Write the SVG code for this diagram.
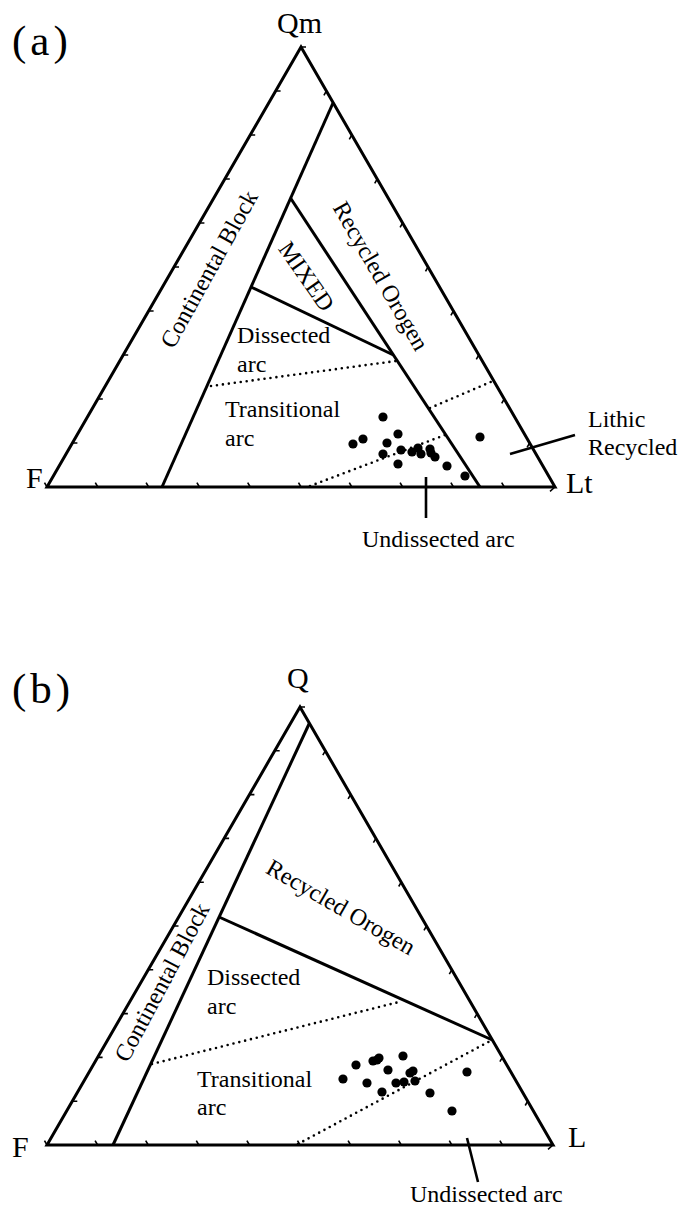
<svg xmlns="http://www.w3.org/2000/svg" width="695" height="1206" viewBox="0 0 695 1206">
<style>
text{font-family:"Liberation Serif","Times New Roman",serif;fill:#000}
.lab{font-size:24px}
.ax{font-size:30px}
.pan{font-size:43px;letter-spacing:4px}
.side{fill:none;stroke:#000;stroke-width:3;stroke-linejoin:miter}
.ln{fill:none;stroke:#000;stroke-width:3}
.tk{fill:none;stroke:#000;stroke-width:1.6}
.dot{fill:none;stroke:#000;stroke-width:2.6;stroke-linecap:round;stroke-dasharray:0 6}
.ld{fill:none;stroke:#000;stroke-width:2.6}
.pt{fill:#000}
</style>
<rect width="695" height="1206" fill="#fff"/>

<!-- Panel (a) -->
<g id="panel-a">
<text class="pan" x="12" y="55">(a)</text>
<g id="a-frame">
<path class="side" d="M47,487 L301,47 L555,487 Z"/>
<path class="tk" d="M72.4,443h5 M97.8,399h5 M123.2,355h5 M148.6,311h5 M174,267h5 M199.4,223h5 M224.8,179h5 M250.2,135h5 M275.6,91h5 M301,47h5
M47,487l-2.5,-4.3 M97.8,487l-2.5,-4.3 M148.6,487l-2.5,-4.3 M199.4,487l-2.5,-4.3 M250.2,487l-2.5,-4.3 M301,487l-2.5,-4.3 M351.8,487l-2.5,-4.3 M402.6,487l-2.5,-4.3 M453.4,487l-2.5,-4.3 M504.2,487l-2.5,-4.3
M326.4,91l-2.5,4.3 M351.8,135l-2.5,4.3 M377.2,179l-2.5,4.3 M402.6,223l-2.5,4.3 M428,267l-2.5,4.3 M453.4,311l-2.5,4.3 M478.8,355l-2.5,4.3 M504.2,399l-2.5,4.3 M529.6,443l-2.5,4.3 M555,487l-5,4.3"/>
</g>
<g id="a-vertex-labels">
<text class="ax" x="277" y="33">Qm</text>
<text class="ax" x="26" y="488">F</text>
<text class="ax" x="566" y="493">Lt</text>
</g>
<g id="a-boundaries">
<path class="ln" d="M333,103 L162,487"/>
<path class="ln" d="M290.5,198 L480,487"/>
<path class="ln" d="M251,287 L393.4,355"/>
<path class="dot" d="M211,386 L396,361"/>
<path class="dot" d="M310,486 L445,435"/>
<path class="dot" d="M430,408 L493,381"/>
</g>
<g id="a-field-labels">
<text class="lab" text-anchor="middle" transform="translate(216,273) rotate(-61)">Continental Block</text>
<text class="lab" text-anchor="middle" transform="translate(374,280) rotate(60)">Recycled Orogen</text>
<text class="lab" text-anchor="middle" transform="translate(300,281) rotate(55)">MIXED</text>
<text class="lab" x="237" y="343">Dissected</text>
<text class="lab" x="237" y="372">arc</text>
<text class="lab" x="225" y="417">Transitional</text>
<text class="lab" x="225" y="446">arc</text>
<text class="lab" x="588" y="427">Lithic</text>
<text class="lab" x="588" y="455">Recycled</text>
<text class="lab" x="362" y="547">Undissected arc</text>
</g>
<g id="a-leaders">
<path class="ld" d="M510,454 L575,435"/>
<path class="ld" d="M426,477 L426,518"/>
</g>
<g id="a-data">
<circle class="pt" cx="383" cy="417" r="4.6"/>
<circle class="pt" cx="398" cy="434" r="4.6"/>
<circle class="pt" cx="353" cy="444" r="4.6"/>
<circle class="pt" cx="363" cy="439" r="4.6"/>
<circle class="pt" cx="387" cy="443" r="4.6"/>
<circle class="pt" cx="383" cy="454" r="4.6"/>
<circle class="pt" cx="401" cy="450" r="4.6"/>
<circle class="pt" cx="398" cy="464" r="4.6"/>
<circle class="pt" cx="412" cy="452" r="4.6"/>
<circle class="pt" cx="418" cy="448" r="4.6"/>
<circle class="pt" cx="421" cy="454" r="4.6"/>
<circle class="pt" cx="430" cy="449" r="4.6"/>
<circle class="pt" cx="431" cy="453" r="4.6"/>
<circle class="pt" cx="435" cy="457" r="4.6"/>
<circle class="pt" cx="447" cy="466" r="4.6"/>
<circle class="pt" cx="465" cy="476" r="4.6"/>
<circle class="pt" cx="480" cy="437" r="4.6"/>
</g>
</g>

<!-- Panel (b) -->
<g id="panel-b">
<text class="pan" x="12" y="703">(b)</text>
<g id="b-frame">
<path class="side" d="M47,1145 L300,707 L553,1145 Z"/>
<path class="tk" d="M72.3,1101.2h5 M97.6,1057.4h5 M122.9,1013.6h5 M148.2,969.8h5 M173.5,926h5 M198.8,882.2h5 M224.1,838.4h5 M249.4,794.6h5 M274.7,750.8h5 M300,707h5
M47,1145l-2.5,-4.3 M97.6,1145l-2.5,-4.3 M148.2,1145l-2.5,-4.3 M198.8,1145l-2.5,-4.3 M249.4,1145l-2.5,-4.3 M300,1145l-2.5,-4.3 M350.6,1145l-2.5,-4.3 M401.2,1145l-2.5,-4.3 M451.8,1145l-2.5,-4.3 M502.4,1145l-2.5,-4.3
M325.3,750.8l-2.5,4.3 M350.6,794.6l-2.5,4.3 M375.9,838.4l-2.5,4.3 M401.2,882.2l-2.5,4.3 M426.5,926l-2.5,4.3 M451.8,969.8l-2.5,4.3 M477.1,1013.6l-2.5,4.3 M502.4,1057.4l-2.5,4.3 M527.7,1101.2l-2.5,4.3 M553,1145l-5,4.3"/>
</g>
<g id="b-vertex-labels">
<text class="ax" x="287" y="688">Q</text>
<text class="ax" x="12" y="1157">F</text>
<text class="ax" x="568" y="1147">L</text>
</g>
<g id="b-boundaries">
<path class="ln" d="M309.5,723 L113,1145"/>
<path class="ln" d="M219,917 L492.3,1040"/>
<path class="dot" d="M152,1064 L399,1002"/>
<path class="dot" d="M298,1144 L492,1040"/>
</g>
<g id="b-field-labels">
<text class="lab" text-anchor="middle" transform="translate(169,986) rotate(-62)">Continental Block</text>
<text class="lab" text-anchor="middle" transform="translate(337,914) rotate(30)">Recycled Orogen</text>
<text class="lab" x="207" y="985">Dissected</text>
<text class="lab" x="207" y="1014">arc</text>
<text class="lab" x="197" y="1087">Transitional</text>
<text class="lab" x="197" y="1115">arc</text>
<text class="lab" x="410" y="1202">Undissected arc</text>
</g>
<g id="b-leaders">
<path class="ld" d="M467,1138 L478,1182"/>
</g>
<g id="b-data">
<circle class="pt" cx="343" cy="1079" r="4.6"/>
<circle class="pt" cx="356" cy="1065" r="4.6"/>
<circle class="pt" cx="367" cy="1083" r="4.6"/>
<circle class="pt" cx="373" cy="1061" r="4.6"/>
<circle class="pt" cx="379" cy="1058" r="4.6"/>
<circle class="pt" cx="377" cy="1060" r="4.6"/>
<circle class="pt" cx="403" cy="1056" r="4.6"/>
<circle class="pt" cx="388" cy="1070" r="4.6"/>
<circle class="pt" cx="396" cy="1083" r="4.6"/>
<circle class="pt" cx="404" cy="1082" r="4.6"/>
<circle class="pt" cx="410" cy="1073" r="4.6"/>
<circle class="pt" cx="413" cy="1071" r="4.6"/>
<circle class="pt" cx="415" cy="1081" r="4.6"/>
<circle class="pt" cx="382" cy="1092" r="4.6"/>
<circle class="pt" cx="430" cy="1093" r="4.6"/>
<circle class="pt" cx="467" cy="1072" r="4.6"/>
<circle class="pt" cx="452" cy="1111" r="4.6"/>
</g>
</g>
</svg>
